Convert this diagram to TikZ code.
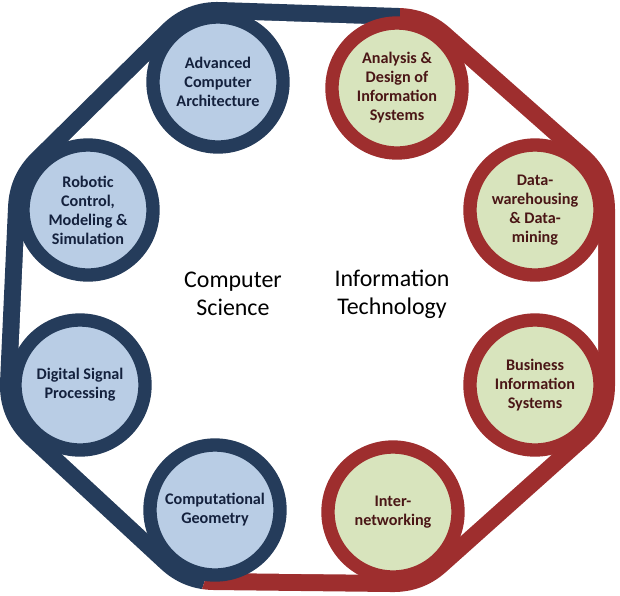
\documentclass[tikz,border=0pt]{standalone}
\usepackage{fontspec}
\setmainfont{Carlito}
\begin{document}
\begin{tikzpicture}[x=0.025cm,y=-0.025cm]
\definecolor{navy}{HTML}{253C5B}
\definecolor{dred}{HTML}{9E2E2E}
\definecolor{lblue}{HTML}{B9CDE5}
\definecolor{lgreen}{HTML}{D8E4BD}
\definecolor{tblue}{HTML}{14213D}
\definecolor{tred}{HTML}{4A1616}
\tikzset{
 hull/.style={line join=round},
 cs/.style={circle,draw=navy,fill=lblue,line width=9.5pt,minimum size=130*0.025cm,inner sep=0pt,align=center,font=\bfseries\fontsize{11.5}{13.5}\selectfont,text=tblue},
 it/.style={circle,draw=dred,fill=lgreen,line width=9.5pt,minimum size=130*0.025cm,inner sep=0pt,align=center,font=\bfseries\fontsize{11.5}{13.5}\selectfont,text=tred},
 big/.style={align=center,font=\fontsize{17}{20}\selectfont,text=black}
}
\useasboundingbox (0,0) rectangle (620,595);
\coordinate (ca) at (218,82); \coordinate (cr) at (88,210);
\coordinate (cd) at (80,385); \coordinate (cg) at (215,510);
\coordinate (cn) at (393,512); \coordinate (cb) at (535,385);
\coordinate (cw) at (535,210); \coordinate (cy) at (397,88);
\begin{scope}
\clip (0,0) -- (400,0) -- (400,297) -- (300,297) -- (200,595) -- (0,595) -- cycle;
\filldraw[hull,navy,line width=4cm] (ca) -- (cr) -- (cd) -- (cg) -- (cn) -- (cb) -- (cw) -- (cy) -- cycle;
\end{scope}
\begin{scope}
\clip (400,0) -- (620,0) -- (620,595) -- (200,595) -- (300,297) -- (400,297) -- cycle;
\filldraw[hull,dred,line width=4cm] (ca) -- (cr) -- (cd) -- (cg) -- (cn) -- (cb) -- (cw) -- (cy) -- cycle;
\end{scope}
\filldraw[hull,white,line width=3.15cm] (ca) -- (cr) -- (cd) -- (cg) -- (cn) -- (cb) -- (cw) -- (cy) -- cycle;
\node[cs] (a) at (ca) {Advanced\\Computer\\Architecture};
\node[cs] (r) at (cr) {Robotic\\Control,\\Modeling \&\\Simulation};
\node[cs] (d) at (cd) {Digital Signal\\Processing};
\node[it] (an) at (cy) {Analysis \&\\Design of\\Information\\Systems};
\node[it] (dw) at (cw) {Data-\\warehousing\\\& Data-\\mining};
\node[it] (bi) at (cb) {Business\\Information\\Systems};
\node[it] (in) at (cn) {Inter-\\networking};
\node[cs] (g) at (cg) {Computational\\Geometry};
\node[big] (cs) at (233,294) {Computer\\Science};
\node[big] (itx) at (392,294) {Information\\Technology};
\end{tikzpicture}
\end{document}
